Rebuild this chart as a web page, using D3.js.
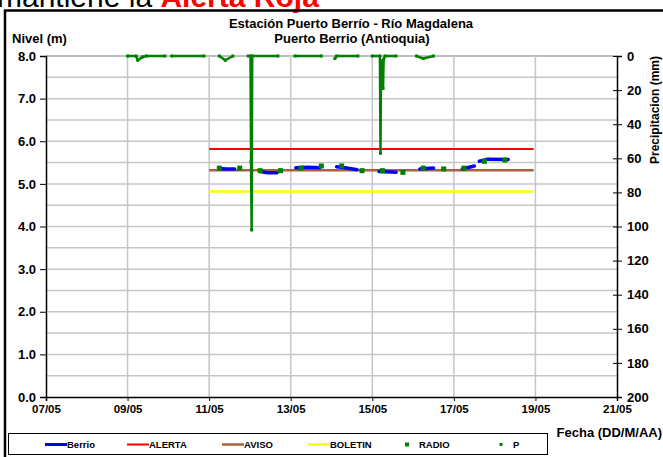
<!DOCTYPE html>
<html>
<head>
<meta charset="utf-8">
<script src="https://cdn.jsdelivr.net/npm/d3@7"></script>
<style>
  html, body { margin: 0; padding: 0; background: #fff; }
  svg { display: block; font-family: "Liberation Sans", Arial, sans-serif; }
  .axis text { font-weight: bold; fill: #000; }
</style>
</head>
<body>
<svg id="chart" width="663" height="457"></svg>
<script>
// ---------------- DATA ----------------
const xTickLabels = ["07/05", "09/05", "11/05", "13/05", "15/05", "17/05", "19/05", "21/05"];
const levelTicks = [0, 1, 2, 3, 4, 5, 6, 7, 8];
const levelGrid = [0.5, 1, 1.5, 2, 2.5, 3, 3.5, 4, 4.5, 5, 5.5, 6, 6.5, 7, 7.5, 8];
const precipTicks = [0, 20, 40, 60, 80, 100, 120, 140, 160, 180, 200];

// Nivel (m) - Berrio (null = gap)
const berrioDates = [
  "2011-05-11T06:00", "2011-05-11T10:00", "2011-05-11T15:00", "2011-05-11T16:00",
  "2011-05-12T06:00", "2011-05-12T10:00", "2011-05-12T16:00", "2011-05-12T17:00",
  "2011-05-13T03:00", "2011-05-13T10:00", "2011-05-13T17:00", "2011-05-13T18:00",
  "2011-05-14T03:00", "2011-05-14T09:00", "2011-05-14T15:00", "2011-05-14T16:00",
  "2011-05-15T04:00", "2011-05-15T14:00", "2011-05-15T15:00",
  "2011-05-16T04:00", "2011-05-16T12:00", "2011-05-16T13:00",
  "2011-05-17T05:00", "2011-05-17T12:00", "2011-05-17T13:00",
  "2011-05-17T15:00", "2011-05-17T20:00", "2011-05-18T08:00"
];
const berrioLevels = [
  5.36, 5.35, 5.35, null,
  5.29, 5.26, 5.26, null,
  5.38, 5.39, 5.38, null,
  5.40, 5.37, 5.33, null,
  5.29, 5.27, null,
  5.35, 5.37, null,
  5.35, 5.42, null,
  5.53, 5.58, 5.57
];

// RADIO readings (m)
const radioDates = [
  "2011-05-11T06:00", "2011-05-11T18:00", "2011-05-12T06:00", "2011-05-12T18:00",
  "2011-05-13T06:00", "2011-05-13T18:00", "2011-05-14T06:00", "2011-05-14T18:00",
  "2011-05-15T06:00", "2011-05-15T18:00", "2011-05-16T06:00", "2011-05-16T18:00",
  "2011-05-17T06:00", "2011-05-17T18:00", "2011-05-18T06:00"
];
const radioLevels = [5.37, 5.37, 5.31, 5.31, 5.37, 5.42, 5.42, 5.31, 5.31, 5.27, 5.37, 5.35, 5.37, 5.53, 5.56];

// Threshold levels (m)
const thresholdStart = "2011-05-11T00:00";
const thresholdEnd = "2011-05-18T23:00";
const alertaLevel = 5.82;
const avisoLevel = 5.32;
const boletinLevel = 4.82;

// Precipitation P (mm, null = gap)
const precipDates = [
  "2011-05-09T00:00", "2011-05-09T05:00", "2011-05-09T06:00", "2011-05-09T09:00", "2011-05-09T11:00", "2011-05-09T22:00", "2011-05-09T23:00",
  "2011-05-10T02:00", "2011-05-10T21:00", "2011-05-10T22:00",
  "2011-05-11T06:00", "2011-05-11T09:30", "2011-05-11T14:00", "2011-05-11T15:00",
  "2011-05-11T23:00", "2011-05-11T23:30",
  "2011-05-12T00:20", "2011-05-12T00:40", "2011-05-12T01:00", "2011-05-12T01:20", "2011-05-12T16:30", "2011-05-12T17:00",
  "2011-05-13T02:30", "2011-05-13T18:00", "2011-05-13T19:00",
  "2011-05-14T02:00", "2011-05-14T03:00", "2011-05-14T15:30", "2011-05-14T16:00",
  "2011-05-15T00:00", "2011-05-15T04:30", "2011-05-15T04:50", "2011-05-15T05:10", "2011-05-15T06:10", "2011-05-15T06:20", "2011-05-15T06:40", "2011-05-15T07:30", "2011-05-15T14:00", "2011-05-15T15:00",
  "2011-05-16T02:00", "2011-05-16T06:00", "2011-05-16T12:00"
];
const precipValues = [
  0, 0, 2.5, 0.5, 0, 0, null,
  0, 0, null,
  0, 2.5, 0, null,
  0, null,
  0, 62, 102, 0, 0, null,
  0, 0, null,
  1.5, 0, 0, null,
  0, 0, 57, 3, 3, 19, 2, 0, 0, null,
  0, 1.5, 0
];

// ---------------- CHART ----------------
const parse = d3.timeParse("%Y-%m-%dT%H:%M");
const parseTick = d3.timeParse("%d/%m/%Y");
const svg = d3.select("#chart");

const mLeft = 46, mRight = 617, mTop = 56, mBottom = 397;

const x = d3.scaleTime()
  .domain([parseTick("07/05/2011"), parseTick("21/05/2011")])
  .range([mLeft, mRight]);
const y = d3.scaleLinear().domain([0, 8]).range([mBottom, mTop]);
const yP = d3.scaleLinear().domain([0, 200]).range([mTop, mBottom]);

const xTicks = xTickLabels.map(s => parseTick(s + "/2011"));

// Heading text (partly cut off at top, as in the source)
const head = svg.append("text").attr("x", -3).attr("y", 7)
  .attr("font-size", 30).attr("font-family", "Liberation Sans, Arial, sans-serif");
head.append("tspan").attr("fill", "#000").text("mantiene la ");
head.append("tspan").attr("fill", "#ff0000").attr("font-weight", "bold").text("Alerta Roja");

// Outer frame
svg.append("line").attr("x1", 4).attr("x2", 663).attr("y1", 10.5).attr("y2", 10.5)
  .attr("stroke", "#000").attr("stroke-width", 2.5);
svg.append("line").attr("x1", 5).attr("x2", 5).attr("y1", 10).attr("y2", 457)
  .attr("stroke", "#000").attr("stroke-width", 2.5);

// Grid
const grid = svg.append("g");
grid.selectAll("line.h").data(levelGrid).join("line")
  .attr("x1", mLeft).attr("x2", mRight)
  .attr("y1", d => y(d)).attr("y2", d => y(d))
  .attr("stroke", d => (d === 8 ? "#a8a8a8" : "#c6c6c6")).attr("stroke-width", 1.5);
grid.selectAll("line.v").data(xTicks.slice(1, -1)).join("line")
  .attr("x1", d => x(d)).attr("x2", d => x(d))
  .attr("y1", mTop).attr("y2", mBottom)
  .attr("stroke", "#c6c6c6").attr("stroke-width", 1.5);

// Axes
const fmt = d3.format(".1f");
const gL = svg.append("g").attr("class", "axis").attr("transform", `translate(${mLeft},0)`)
  .call(d3.axisLeft(y).tickValues(levelTicks).tickFormat(fmt).tickSize(6).tickPadding(4));
gL.selectAll("text").attr("font-size", 13);

const gR = svg.append("g").attr("class", "axis").attr("transform", `translate(${mRight},0)`)
  .call(d3.axisRight(yP).tickValues(precipTicks).tickSize(5).tickPadding(5));
gR.selectAll("text").attr("font-size", 13);
svg.append("g").attr("transform", `translate(${mRight},0)`)
  .call(d3.axisLeft(yP).tickValues(precipTicks).tickSize(4).tickFormat(""))
  .call(g => g.select(".domain").remove());

const gB = svg.append("g").attr("class", "axis").attr("transform", `translate(0,${mBottom})`)
  .call(d3.axisBottom(x).tickValues(xTicks).tickFormat(d3.timeFormat("%d/%m")).tickSize(4).tickPadding(4));
gB.selectAll("text").attr("font-size", 11.5);

svg.selectAll(".axis .domain").attr("stroke", "#000").attr("stroke-width", 1.5);
svg.selectAll(".axis .tick line").attr("stroke", "#000");

// Thresholds
const thr = [
  { v: alertaLevel, c: "#ff0000", w: 2 },
  { v: avisoLevel, c: "#a5633f", w: 2.5 },
  { v: boletinLevel, c: "#ffff00", w: 2.5 }
];
svg.append("g").selectAll("line").data(thr).join("line")
  .attr("x1", x(parse(thresholdStart))).attr("x2", x(parse(thresholdEnd)))
  .attr("y1", d => y(d.v)).attr("y2", d => y(d.v))
  .attr("stroke", d => d.c).attr("stroke-width", d => d.w);

// Berrio line
const berrio = berrioDates.map((d, i) => ({ t: parse(d), v: berrioLevels[i] }));
svg.append("path").datum(berrio)
  .attr("fill", "none").attr("stroke", "#0000ff").attr("stroke-width", 3.5)
  .attr("stroke-linecap", "round")
  .attr("d", d3.line().defined(d => d.v !== null).x(d => x(d.t)).y(d => y(d.v)));

// Precipitation P
const precip = precipDates.map((d, i) => ({ t: parse(d), v: precipValues[i] }));
svg.append("path").datum(precip)
  .attr("fill", "none").attr("stroke", "#008000").attr("stroke-width", 2.5)
  .attr("stroke-linejoin", "round")
  .attr("d", d3.line().defined(d => d.v !== null).x(d => x(d.t)).y(d => yP(d.v)));
svg.append("g").selectAll("rect").data(precip.filter(d => d.v !== null)).join("rect")
  .attr("x", d => x(d.t) - 1.5).attr("y", d => yP(d.v) - 1.5)
  .attr("width", 3).attr("height", 3).attr("fill", "#008000");

// RADIO dots
const radio = radioDates.map((d, i) => ({ t: parse(d), v: radioLevels[i] }));
svg.append("g").selectAll("rect").data(radio).join("rect")
  .attr("x", d => x(d.t) - 2.5).attr("y", d => y(d.v) - 2.5)
  .attr("width", 5).attr("height", 5).attr("fill", "#008000");

// Titles
svg.append("text").attr("x", 351).attr("y", 28).attr("text-anchor", "middle")
  .attr("font-size", 13).attr("font-weight", "bold").text("Estación Puerto Berrío - Río Magdalena");
svg.append("text").attr("x", 352).attr("y", 43).attr("text-anchor", "middle")
  .attr("font-size", 13).attr("font-weight", "bold").text("Puerto Berrio (Antioquia)");
svg.append("text").attr("x", 12).attr("y", 43)
  .attr("font-size", 13).attr("font-weight", "bold").text("Nivel (m)");
svg.append("text").attr("transform", "translate(659,110) rotate(-90)").attr("text-anchor", "middle")
  .attr("font-size", 12).attr("font-weight", "bold").text("Precipitacion (mm)");
svg.append("text").attr("x", 662).attr("y", 437).attr("text-anchor", "end")
  .attr("font-size", 13).attr("font-weight", "bold").text("Fecha (DD/M/AA)");

// Legend
const lg = svg.append("g");
lg.append("rect").attr("x", 8.5).attr("y", 433.5).attr("width", 539).attr("height", 21)
  .attr("fill", "#fff").attr("stroke", "#000").attr("stroke-width", 1);
const legendItems = [
  { name: "Berrio", type: "line", c: "#0000ff", w: 3, x: 45 },
  { name: "ALERTA", type: "line", c: "#ff0000", w: 2, x: 127 },
  { name: "AVISO", type: "line", c: "#a5633f", w: 2.5, x: 222 },
  { name: "BOLETIN", type: "line", c: "#ffff00", w: 2.5, x: 308 },
  { name: "RADIO", type: "dot", c: "#008000", s: 4, x: 407 },
  { name: "P", type: "dot", c: "#008000", s: 3, x: 501 }
];
const ly = 444.5;
legendItems.forEach(it => {
  if (it.type === "line") {
    lg.append("line").attr("x1", it.x).attr("x2", it.x + 22).attr("y1", ly).attr("y2", ly)
      .attr("stroke", it.c).attr("stroke-width", it.w);
    lg.append("text").attr("x", it.x + 22).attr("y", ly + 3.5)
      .attr("font-size", 9.5).attr("font-weight", "bold").text(it.name);
  } else {
    lg.append("rect").attr("x", it.x - it.s / 2).attr("y", ly - it.s / 2)
      .attr("width", it.s).attr("height", it.s).attr("fill", it.c);
    lg.append("text").attr("x", it.x + 12).attr("y", ly + 3.5)
      .attr("font-size", 9.5).attr("font-weight", "bold").text(it.name);
  }
});
</script>
</body>
</html>
